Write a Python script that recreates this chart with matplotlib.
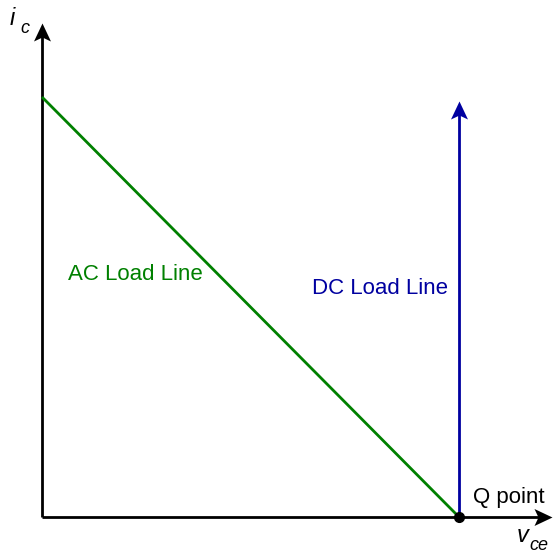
import matplotlib.pyplot as plt
from matplotlib.path import Path
from matplotlib.markers import MarkerStyle
from matplotlib.transforms import Affine2D

plt.rcParams['font.family'] = ['Liberation Sans', 'DejaVu Sans']

# load lines (v_ce, i_c) in arbitrary units
ac_v = [0, 417]
ac_i = [420, 0]
dc_v = [417, 417]
dc_i = [0, 416]
q_v, q_i = 417, 0
axis_v_max = 510
axis_i_max = 494

GREEN = '#008000'
BLUE = '#0000a0'

fig = plt.figure(figsize=(5.54, 5.55), dpi=100)
ax = fig.add_axes([0, 0, 1, 1])
ax.set_xlim(-42, 512)
ax.set_ylim(-38, 517)
ax.axis('off')

# notched arrow head pointing right, tip at origin
head = Path([(0, 0), (-18, 8.5), (-14, 0), (-18, -8.5), (0, 0)],
            [Path.MOVETO, Path.LINETO, Path.LINETO, Path.LINETO, Path.CLOSEPOLY])
HEAD_MS = 36 / 1.389


def arrow(x0, y0, x1, y1, color, up):
    if up:
        ax.plot([x0, x1], [y0, y1 - 10], color=color, lw=2, solid_capstyle='butt')
        m = MarkerStyle(head, transform=Affine2D().rotate_deg(90))
    else:
        ax.plot([x0, x1 - 10], [y0, y1], color=color, lw=2, solid_capstyle='butt')
        m = MarkerStyle(head)
    ax.plot([x1], [y1], marker=m, markersize=HEAD_MS, color=color,
            markeredgewidth=0, linestyle='none')


# axes
arrow(0, 0, axis_v_max, 0, 'black', up=False)
arrow(0, 0, 0, axis_i_max, 'black', up=True)

# AC load line
ax.plot(ac_v, ac_i, color=GREEN, lw=2, solid_capstyle='butt')
# DC load line
arrow(dc_v[0], dc_i[0], dc_v[1], dc_i[1], BLUE, up=True)
# Q point
ax.plot([q_v], [q_i], 'o', color='black', markersize=7, zorder=5)

ax.text(26, 242, 'AC Load Line', color=GREEN, fontsize=16, va='center')
ax.text(270, 229, 'DC Load Line', color=BLUE, fontsize=16, va='center')
ax.text(431, 20, 'Q point', color='black', fontsize=16, va='center')

ax.text(-32, 492, 'i', fontsize=17, fontstyle='italic', va='baseline')
ax.text(-22, 484, 'c', fontsize=13, fontstyle='italic', va='baseline')
ax.text(475, -25, 'v', fontsize=17, fontstyle='italic', va='baseline')
ax.text(487, -33, 'ce', fontsize=13, fontstyle='italic', va='baseline')

fig.savefig('out.png', dpi=100)
